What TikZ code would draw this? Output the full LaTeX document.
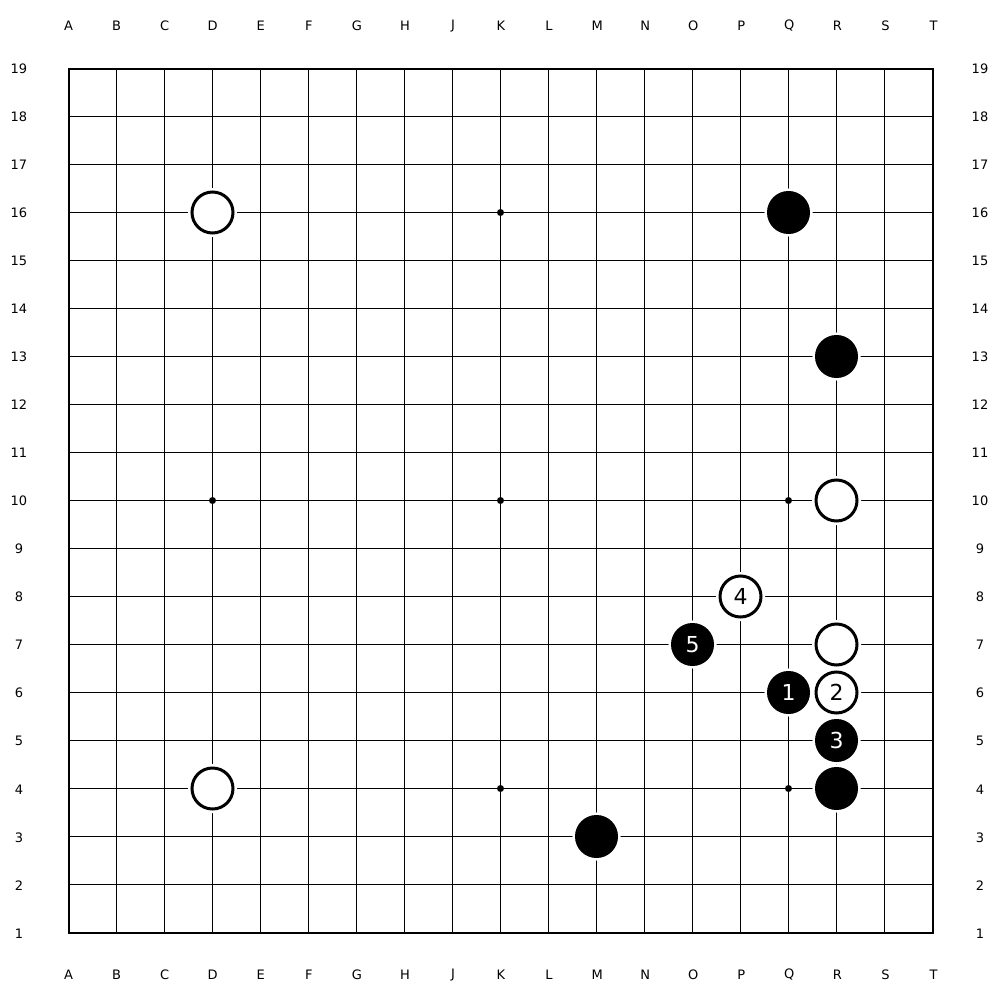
\documentclass[tikz,border=0pt]{standalone}
\usepackage{fontspec}
\setmainfont{DejaVu Sans}
\begin{document}
\begin{tikzpicture}[x=1pt,y=-1pt,
  gridline/.style={line width=1pt,black},
  border/.style={line width=2pt,black},
  lab/.style={inner sep=0pt,font=\fontsize{13}{13}\selectfont},
  starpt/.style={circle,fill=black,inner sep=0pt,minimum size=7pt},
  whitestone/.style={circle,draw=black,fill=white,line width=3pt,inner sep=0pt,minimum size=41pt,
    preaction={draw=white,line width=8pt},font=\fontsize{22}{22}\selectfont},
  blackstone/.style={circle,draw=black,fill=black,line width=1pt,inner sep=0pt,minimum size=42pt,
    preaction={draw=white,line width=6pt},text=white,font=\fontsize{22}{22}\selectfont}]
\def\s{48.0556}
\useasboundingbox (0,0) rectangle (1000,1000);
% grid
\foreach \i in {1,...,17} {
  \draw[gridline] ({int(68+\i*\s)+0.5},68) -- ({int(68+\i*\s)+0.5},933);
  \draw[gridline] (68,{int(68+\i*\s)+0.5}) -- (933,{int(68+\i*\s)+0.5});
}
\draw[border] (69,69) rectangle (933,933);
% labels
\foreach \l [count=\i from 0] in {A,B,C,D,E,F,G,H,J,K,L,M,N,O,P,Q,R,S,T} {
  \node[lab] (top\l) at ({68.5+\i*\s},26) {\l};
  \node[lab] (bot\l) at ({68.5+\i*\s},975) {\l};
}
\foreach \r in {1,...,19} {
  \node[lab] (left\r) at (19,{68.5+(19-\r)*\s}) {\r};
  \node[lab] (right\r) at (980,{68.5+(19-\r)*\s}) {\r};
}
% star points
\foreach \c/\r [count=\k] in {3/16,9/16,15/16,3/10,9/10,15/10,3/4,9/4,15/4} {
  \node[starpt] (star\k) at ({int(68+\c*\s)+0.5},{int(68+(19-\r)*\s)+0.5}) {};
}
% stones
\foreach \n/\c/\r/\t in {wD16/3/16/,wR10/16/10/,wP8/14/8/4,wR7/16/7/,wR6/16/6/2,wD4/3/4/} {
  \node[whitestone] (\n) at ({int(68+\c*\s)+0.5},{int(68+(19-\r)*\s)+0.5}) {\t};
}
\foreach \n/\c/\r/\t in {bQ16/15/16/,bR13/16/13/,bO7/13/7/5,bQ6/15/6/1,bR5/16/5/3,bR4/16/4/,bM3/11/3/} {
  \node[blackstone] (\n) at ({int(68+\c*\s)+0.5},{int(68+(19-\r)*\s)+0.5}) {\t};
}
\end{tikzpicture}
\end{document}
